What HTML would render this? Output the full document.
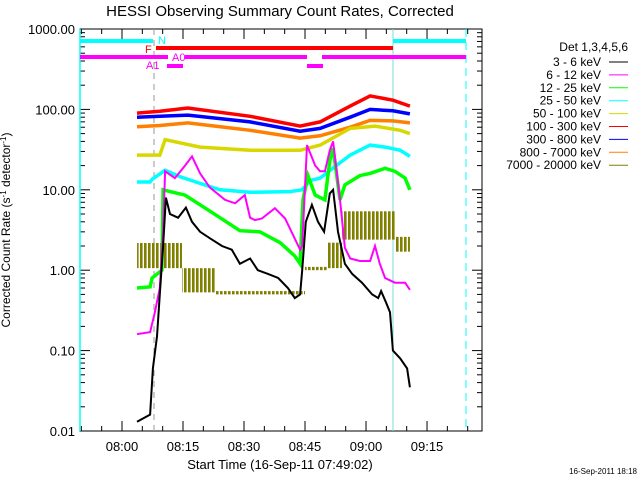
<!DOCTYPE html>
<html><head><meta charset="utf-8"><style>
html,body{margin:0;padding:0;background:#fff;}
svg{display:block;font-family:"Liberation Sans",sans-serif;}
</style></head><body>
<svg id="chart" width="640" height="480" viewBox="0 0 640 480">
<defs><pattern id="olv" x="0" y="0" width="4" height="500" patternUnits="userSpaceOnUse"><rect x="0" y="0" width="2.6" height="500" fill="#808000"/></pattern></defs>
<text x="280" y="16" font-size="15" text-anchor="middle">HESSI Observing Summary Count Rates, Corrected</text>
<g id="plot"></g>
<text x="280" y="469" font-size="13" text-anchor="middle">Start Time (16-Sep-11 07:49:02)</text>
<text transform="translate(10,230) rotate(-90)" font-size="12" text-anchor="middle">Corrected Count Rate (s<tspan dy="-4" font-size="8">-1</tspan><tspan dy="4"> detector</tspan><tspan dy="-4" font-size="8">-1</tspan><tspan dy="4">)</tspan></text>
<text x="637" y="474" font-size="8" text-anchor="end">16-Sep-2011 18:18</text>
</svg>
<script>
// time in minutes after 08:00
const xTickLabels = ["08:00","08:15","08:30","08:45","09:00","09:15"];
const xTickMinutes = [0,15,30,45,60,75];
const yTickValues = [1000,100,10,1,0.1,0.01];
const yTickLabels = ["1000.00","100.00","10.00","1.00","0.10","0.01"];
const seriesNames = ["3 - 6 keV","6 - 12 keV","12 - 25 keV","25 - 50 keV","50 - 100 keV","100 - 300 keV","300 - 800 keV","800 - 7000 keV","7000 - 20000 keV"];
const seriesColors = ["#000000","#ff00ff","#00ff00","#00ffff","#d8d800","#ff0000","#0000ff","#ff8000","#808000"];

const tBlack = [3.7,6.9,7.6,8.6,9.3,10.1,10.8,11.8,13.8,15.7,17.2,19.2,21.6,24.6,27.0,29.0,31.5,33.4,35.9,38.4,40.8,42.5,43.8,44.3,45.2,46.7,48.2,49.7,51.1,51.9,53.1,54.8,56.6,59.0,61.5,63.0,63.7,64.9,65.9,66.6,68.4,70.1,70.8];
const vBlack = [0.013,0.016,0.06,0.15,0.5,2,8,5,4.5,6,4,3,2.5,2,1.8,1.2,1.4,1,0.9,0.8,0.6,0.45,0.5,1,4,6.5,4,3,9,10,3,1.2,0.9,0.7,0.5,0.45,0.55,0.4,0.3,0.1,0.08,0.06,0.035];
const tMag = [3.7,6.9,8.1,9.3,10.1,10.6,13.0,15.5,17.2,19.2,21.6,25.3,27.8,30.2,31.5,32.7,34.4,37.6,40.1,43.8,44.3,45.5,47.5,48.7,49.9,51.1,51.9,53.6,54.8,56.1,58.5,61.0,62.2,63.4,64.7,67.1,69.6,70.8];
const vMag = [0.16,0.17,0.3,0.6,3,17,14,20,26,16,10.7,7.5,6.8,8.6,4.5,4.2,4.4,5.9,4.4,1.8,2,36,20,17,17,31,40,7.5,1.9,1.4,1.3,1.3,2,1.2,0.8,0.7,0.7,0.57];
const tGreen = [3.7,6.9,7.4,9.8,10.1,11.8,15.5,19.2,24.1,29.0,33.9,38.9,42.5,43.8,44.5,45.7,47.5,49.9,51.1,51.9,53.6,54.8,58.5,61.0,64.7,67.1,69.6,70.8];
const vGreen = [0.6,0.62,0.8,1,10,9.5,8.6,6.5,4.5,3.1,3,2.2,1.5,1.2,7.5,15,8.6,7.5,23,33,7.5,11.5,15,16,18.5,17,14,10];
const tCyan = [3.7,6.9,7.4,10.6,14.3,19.2,24.1,31.5,41.3,44.3,46.2,48.7,52.4,56.1,61.0,64.7,68.4,70.8];
const vCyan = [12.5,12.5,13.5,17.5,14.5,12,10,9.3,9.5,10,13,14,19.5,27,36,34,31,26];
const tYellow = [3.7,9.3,10.6,19.2,31.5,43.8,48.7,56.1,62.2,68.4,70.8];
const vYellow = [27,27,42,34,31,31,36,58,62,55,50];
const tOrange = [3.7,9.3,16.2,31.5,43.8,48.7,56.1,61.0,66.6,70.8];
const vOrange = [61,63,68,55,44,47,60,73,72,68];
const tBlue = [3.7,9.3,16.2,31.5,43.8,48.7,56.1,61.0,66.6,70.8];
const vBlue = [80,82,85,70,53.5,58,80,100,96,88];
const tRed = [3.7,9.3,16.2,31.5,43.8,48.7,56.1,61.0,66.6,70.8];
const vRed = [90,95,104,82,62,70,110,147,130,110];
// olive band segments: start min, end min, low value, high value
const oStart = [3.7,14.75,23.1,45.0,50.4,54.1,67.1];
const oEnd = [14.75,23.1,45.0,50.4,54.1,67.1,70.8];
const oLow = [1.06,0.53,0.5,1.0,1.06,2.4,1.7];
const oHigh = [2.18,1.06,0.55,1.1,2.2,5.4,2.6];

const X0=122, PXM=4.067, YB=431, PXD=80.4;
const L=80,R=482,T=29,B=431;
function xs(m){return X0+PXM*m;}
function ys(v){return YB-PXD*(Math.log10(v)+2);}
const NS="http://www.w3.org/2000/svg";
const g=document.getElementById('plot');
function mk(tag,attrs,parent){const e=document.createElementNS(NS,tag);for(const k in attrs)e.setAttribute(k,attrs[k]);(parent||g).appendChild(e);return e;}

for(let d=-2;d<=3;d++){
  const y=ys(Math.pow(10,d));
  let ln=mk('line',{x1:L,x2:L+10,y1:y,y2:y,stroke:'#000'});
  
  
  ln=mk('line',{x1:R-10,x2:R,y1:y,y2:y,stroke:'#000'});
  
  
  if(d<3){for(let k=2;k<=9;k++){const yy=ys(k*Math.pow(10,d));
    ln=mk('line',{x1:L,x2:L+5,y1:yy,y2:yy,stroke:'#000'});
    
    
    ln=mk('line',{x1:R-5,x2:R,y1:yy,y2:yy,stroke:'#000'});
    
    }}
}
yTickValues.forEach((v,i)=>{const t=mk('text',{x:75,y:ys(v)+5,'font-size':13,'text-anchor':'end'});t.textContent=yTickLabels[i];
  
  });
for(let m=-10;m<=85;m+=5){const x=xs(m);if(x<L||x>R)continue;const len=(m%15===0)?10:5;
  let ln=mk('line',{x1:x,x2:x,y1:B,y2:B-len,stroke:'#000'});
  
  
  ln=mk('line',{x1:x,x2:x,y1:T,y2:T+len,stroke:'#000'});
  
  }
xTickMinutes.forEach((m,i)=>{const t=mk('text',{x:xs(m),y:451,'font-size':13,'text-anchor':'middle'});t.textContent=xTickLabels[i];
  
  });

let fr=mk('rect',{x:L,y:T,width:R-L,height:B-T,fill:'none',stroke:'#000'});


let cl=mk('line',{x1:L,x2:L,y1:T,y2:B,stroke:'#00ffff','stroke-width':1.5});


cl=mk('line',{x1:393,x2:393,y1:T,y2:B,stroke:'#7fd8d8'});


cl=mk('line',{x1:154,x2:154,y1:T,y2:B,stroke:'#999','stroke-dasharray':'6,5'});


cl=mk('line',{x1:466,x2:466,y1:T,y2:B,stroke:'#00ffff','stroke-dasharray':'8,5'});



for(let i=0;i<oStart.length;i++){
  const r=mk('rect',{x:xs(oStart[i]),y:ys(oHigh[i]),width:xs(oEnd[i])-xs(oStart[i]),height:Math.max(1.5,ys(oLow[i])-ys(oHigh[i])),fill:'url(#olv)'});
  
  
}
const allT=[tBlack,tMag,tGreen,tCyan,tYellow,tRed,tBlue,tOrange];
const allV=[vBlack,vMag,vGreen,vCyan,vYellow,vRed,vBlue,vOrange];
const order=[7,4,6,5,3,2,1,0];
const nm=['series-3-6-kev','series-6-12-kev','series-12-25-kev','series-25-50-kev','series-50-100-kev','series-100-300-kev','series-300-800-kev','series-800-7000-kev'];
order.forEach(i=>{
  const pts=allT[i].map((t,j)=>xs(t).toFixed(1)+','+ys(allV[i][j]).toFixed(1)).join(' ');
  const p=mk('polyline',{points:pts,fill:'none',stroke:seriesColors[i],'stroke-width':(i<=1?2:3.5)});
  
  
});

function bar(x1,x2,y,c,name){const l=mk('line',{x1:x1,x2:x2,y1:y,y2:y,stroke:c,'stroke-width':4});
  
  }
bar(80,153,41,'#00ffff','night-flag-bar');bar(393,466,41,'#00ffff','night-flag-bar');
bar(156,393,48,'#ff0000','flare-flag-bar');
bar(80,168,57,'#ff00ff','attenuator-flag-bar');bar(185,307,57,'#ff00ff','attenuator-flag-bar');bar(322,466,57,'#ff00ff','attenuator-flag-bar');
bar(167,183,66,'#ff00ff','attenuator-a1-bar');bar(307,323,66,'#ff00ff','attenuator-a1-bar');
function lab(x,y,c,s,name){const t=mk('text',{x:x,y:y,fill:c,'font-size':11});t.textContent=s;
  
  }
lab(158,44,'#00ffff','N','night-label');lab(145,53,'#ff0000','F','flare-label');
lab(172,61,'#ff00ff','A0','a0-label');lab(146,69,'#ff00ff','A1','a1-label');

let lt=mk('text',{x:628,y:51,'font-size':12,'text-anchor':'end'});lt.textContent='Det 1,3,4,5,6';


seriesNames.forEach((s,i)=>{const y=62+12.9*i;
  const t=mk('text',{x:601,y:y+4,'font-size':12,'text-anchor':'end'});t.textContent=s;
  
  
  const l=mk('line',{x1:609,x2:628,y1:y,y2:y,stroke:seriesColors[i]});
  
  });
</script>
</body></html>
